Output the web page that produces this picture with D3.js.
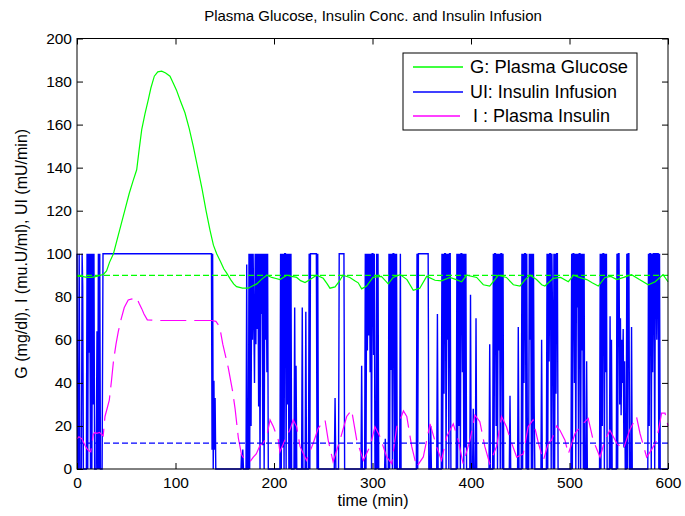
<!DOCTYPE html>
<html>
<head>
<meta charset="utf-8">
<script src="https://cdn.jsdelivr.net/npm/d3@7/dist/d3.min.js"></script>
<style>
html,body{margin:0;padding:0;background:#fff;}
svg{display:block;}
text{font-family:"Liberation Sans",Arial,sans-serif;fill:#000;}
</style>
</head>
<body>
<svg id="chart" width="685" height="516"></svg>
<script>
// ---------- data ----------
const titleText = "Plasma Glucose, Insulin Conc. and Insulin Infusion";
const xLabelText = "time (min)";
const yLabelText = "G (mg/dl), I (mu.U/ml), UI (mU/min)";
const xTicks = [0, 100, 200, 300, 400, 500, 600];
const yTicks = [0, 20, 40, 60, 80, 100, 120, 140, 160, 180, 200];
const legendLabels = ["G: Plasma Glucose", "UI: Insulin Infusion", "I : Plasma Insulin"];
const glucoseSetpoint = 90;
const insulinBasal = 12;

// G: plasma glucose [time, value]
const glucose = [[0,89.5],[5,89.5],[10,89],[15,89],[20,89.5],[24,90],[27,90.5],[30,92],[33,96],[37,100],[41,107],[45,114],[49,121],[53,128],[57,134],[60.6,139],[63,148],[65.7,157.7],[69,165],[72.4,171.6],[75,177],[78.5,182.5],[82,184.5],[86,184.8],[90,184],[94.4,182.5],[98,179],[101,176],[105,171],[109.6,165.5],[114,158],[118,150],[123,139],[127,130],[131,120],[135,111],[138.5,104],[141.8,100],[146,96],[149,93],[152,91],[156,88],[159,86],[162,84.7],[168,84],[174,84],[178,85],[182.5,86],[187,88],[192.6,90],[197.7,89],[202,88.5],[206,88],[213,90],[218,89.5],[223,89],[227,87.5],[231.5,86.6],[236.6,88],[243.3,90],[250,88.6],[254,86],[256.8,84],[262,84.6],[266,87],[270,90],[277,89],[282,87.5],[285.5,86.5],[289,83.7],[294,85],[300.5,89],[309,89.5],[313,87.5],[316,86],[321,89],[328,90.3],[335,88],[341.4,83],[348,84],[355,89.5],[363.5,87.7],[370,87.4],[378.6,89],[385,88],[390.5,87],[395.6,90],[405.8,89],[412.5,85.6],[419,85],[427.6,90],[436,89],[443,85.6],[449.7,85],[455,88],[460,90],[466.5,88],[471.8,85.6],[475,85],[483.5,88.6],[491,89],[498.8,87],[504,90],[510,89],[517.5,88],[523,86.5],[529.2,85],[536,89],[542,89.5],[548,88],[555,89],[563,90.3],[571,88],[580,85.6],[587,87],[595,90.3],[600,87]];

// UI: insulin infusion [time, value]
const infusion = [[0,100],[0.7,0],[1.5,0],[2.2,100],[3,0],[4.5,0],[5.2,100],[5.8,85],[6.5,0],[9.5,0],[10.2,100],[10.9,0],[11.6,100],[12.3,54],[13,100],[13.7,0],[14.4,100],[15.1,0],[15.8,100],[16.5,30],[17.2,100],[17.9,0],[19.5,0],[20.3,64],[21,0],[21.7,100],[22.4,0],[23.1,100],[23.8,0],[25.5,0],[26.4,100],
[136.5,100],[137.1,9],[137.7,100],[138.3,0],[139,41],[139.6,9],[140.2,33],[140.9,0],
[166.5,0],[167,7],[167.6,0],[168.3,9],[169,0],[171.6,0],[172.3,95],[173,0],
[174,0],[174.6,100],[175.3,0],[176,100],[176.7,20],[177.4,100],[178.1,60],[178.8,100],[179.5,70],[180.2,40],[180.9,100],[181.6,58],[182.3,100],[183,65],[183.7,100],[184.4,29],[185.1,100],[185.8,0],[186.5,100],[187.2,72],[187.9,100],[188.6,11],[189.3,100],[190,0],[190.7,100],[191.4,60],[192.1,100],[192.8,45],[193.5,100],[194.2,0],
[206,0],[206.7,100],[207.4,0],[208.1,100],[208.8,10],[209.5,100],[210.2,0],[210.9,100],[211.6,100],[212.3,0],[213,100],[213.7,30],[214.4,100],[215.1,0],[215.8,100],[216.5,0],[217.2,100],[217.9,0],[220.3,0],[221,75],[221.7,0],[222.4,48],[223.1,0],[228,0],[228.7,75],[229.4,0],[231.6,0],[232.3,73],[233,0],[235,0],[235.7,100],[236.4,0],[237,100],[243,100],[243.7,0],[244.4,100],[245.1,0],
[261.2,0],[262,33],[262.8,0],[265.5,0],[266.2,100],[271,100],[271.7,0],
[288.3,0],[289,48],[289.7,0],[292,0],[292.7,100],[293.4,0],[294.1,100],[294.8,55],[295.5,100],[296.2,62],[296.9,100],[297.6,45],[298.3,100],[299,0],[299.7,100],[300.4,100],[301.1,53],[301.8,100],[302.5,0],[303.5,0],[304.2,100],[304.9,0],[305.6,100],[306.3,0],
[312.3,0],[313,14],[313.7,0],[316,0],[316.7,100],[317.4,0],[318.1,100],[318.8,46],[319.5,100],[320.2,0],[320.9,100],[321.6,100],[322.3,0],[323,100],[323.7,0],[324.4,100],[325.1,0],[327.6,0],[328.3,100],[329,0],
[344.5,0],[345.2,100],[345.9,0],[346.6,100],[356.5,100],[357.2,0],[358.4,0],[359.1,20],[359.8,0],[365.2,0],[365.9,72],[366.6,0],
[369.8,0],[370.5,100],[371.2,0],[371.9,100],[372.6,35],[373.3,100],[374,100],[374.7,0],[375.4,100],[376.1,60],[376.8,100],[377.5,0],[378.2,100],[378.9,100],[379.6,0],
[385,0],[385.7,100],[386.4,0],[387.1,100],[387.8,20],[388.5,100],[389.2,0],[389.9,100],[390.6,100],[391.3,45],[392,100],[392.7,0],[393.4,100],[394.1,10],[394.8,100],[395.5,0],
[398.8,0],[399.5,81],[400.2,0],[401.6,0],[402.3,28],[403,0],[404.4,0],[405.1,70],[405.8,0],
[418.3,0],[419,58],[419.7,0],
[422,0],[422.7,100],[423.4,0],[424.1,100],[424.8,100],[425.5,20],[426.2,100],[426.9,0],[427.6,100],[428.3,55],[429,100],[429.7,0],[430.4,100],[431.1,100],[431.8,0],[432.5,100],[433.2,0],
[438.9,0],[439.6,34],[440.3,0],[447.3,0],[448,66],[448.7,0],
[451,0],[451.7,100],[452.4,0],[453.1,100],[453.8,40],[454.5,100],[455.2,100],[455.9,0],[456.6,100],[457.3,0],[458.5,0],[459.2,100],[459.9,60],[460.6,100],[461.3,0],[462,100],[462.7,0],[463.4,100],[464.1,30],[464.8,0],
[471,0],[471.7,60],[472.4,0],
[476.5,0],[477.2,100],[477.9,0],[478.6,100],[479.3,50],[480,100],[480.7,100],[481.4,0],[482.1,100],[482.8,70],[483.5,0],[484.2,100],[484.9,0],[485.6,100],[486.3,35],[487,100],[487.7,100],[488.4,0],
[501.5,0],[502.2,100],[502.9,0],[503.6,100],[504.3,100],[505,40],[505.7,100],[506.4,0],[507.1,100],[507.8,75],[508.5,100],[509.2,0],[509.9,100],[510.6,100],[511.3,0],[512,100],[512.7,55],[513.4,100],[514.1,0],[514.8,100],[515.5,0],
[516.7,0],[517.4,50],[518.1,0],
[530.5,0],[531.2,100],[531.9,0],[532.6,100],[533.3,20],[534,100],[534.7,100],[535.4,0],[536.1,100],[536.8,45],[537.5,100],[538.2,0],
[540.5,0],[541.2,71],[541.9,0],[542.6,60],[543.3,0],
[547.5,0],[548.2,100],[548.9,0],[549.6,100],[550.3,100],[551,30],[551.7,70],[552.4,25],[553.1,60],[553.8,40],[554.5,65],[555.2,10],[555.9,50],[556.6,0],[557.5,0],[558.2,100],[558.9,0],[559.6,100],[560.3,100],[561,0],[562.3,0],[563,66],[563.7,0],
[579.5,0],[580.2,100],[580.9,20],[581.6,100],[582.3,100],[583,0],[583.7,100],[584.4,45],[585.1,100],[585.8,100],[586.5,0],[587.2,100],[587.9,100],[588.6,60],[589.3,100],[590,100],[590.7,0],[591.4,100],[592.1,0],[600,0]];

// I: plasma insulin [time, value]
const insulin = [[0,14],[2,15],[5,14],[8,11],[10,9.5],[12,8.5],[14,8],[16.5,16],[18,17],[20,16.6],[23,17],[25,16],[26.6,15.4],[28.4,24.4],[30.5,28],[32.8,32],[35,41],[37,50],[39.6,58],[42,64],[45,70],[48,75],[52,78.5],[56,79],[60.6,79.6],[63,77],[65.7,74.5],[68,72],[71.4,69.3],[80,69],[100,69],[120,69],[136.7,69],[141,68.6],[143.5,67],[145,65.6],[148,58],[153.6,47],[158,36],[160.5,28],[163.8,14.4],[167,6.7],[170,4.5],[175.6,3.4],[179,5.5],[182,7],[185.8,11],[189,12],[192.6,15],[196,22.8],[199.4,19.6],[204.4,13.4],[206,8],[211,13.4],[216,18],[219.6,22.8],[223,19.6],[226.4,10.5],[233,4],[239.8,12],[245,19],[251.8,22.8],[255,13.4],[260,3.4],[267,13.4],[273.8,24.4],[278.8,27.4],[284,13.4],[290.7,4],[297.5,10.5],[302.5,19.6],[307.6,15],[314.4,5.6],[319.5,2.5],[324.6,19.6],[328,22.8],[331.4,27],[334.8,24.4],[339.8,10.5],[344.8,1],[351.6,5.6],[358.4,21],[365,10.5],[370,4],[375.3,15],[382,21],[387,13.4],[392,2.5],[399,13.4],[404,25],[409,22],[414,10.5],[419,2.5],[426,10.5],[431,24.4],[436,19.6],[441.3,12],[446.4,5.5],[453,7],[458,19.6],[463,22.8],[468.4,12],[473.5,4],[478.5,12],[481.8,13.4],[487,20],[490.3,18],[495.4,13.4],[498.8,7],[505.6,16.5],[510.7,19.6],[519,23.5],[524,13.4],[531,5.5],[536,13.4],[541,18],[548,12],[554.6,9],[561,18],[568,24.4],[571.6,16.5],[578.3,5.5],[583.4,9],[588.5,13.4],[593.5,26],[597,26],[600,20]];

// ---------- layout ----------
const svg = d3.select("#chart");
const plot = {left: 77, right: 668, top: 38.5, bottom: 469};
const x = d3.scaleLinear().domain([0, 600]).range([plot.left, plot.right]);
const y = d3.scaleLinear().domain([0, 200]).range([plot.bottom, plot.top]);
const fontSize = 15.5;

svg.append("rect").attr("x",0).attr("y",0).attr("width",685).attr("height",516).attr("fill","#fff");

const line = d3.line().x(d => x(d[0])).y(d => y(d[1]));

// series
svg.append("path").datum(infusion).attr("d", line)
  .attr("fill","none").attr("stroke","#0000ff").attr("stroke-width",1.4).attr("stroke-linejoin","miter");
svg.append("path").datum(glucose).attr("d", line)
  .attr("fill","none").attr("stroke","#00ff00").attr("stroke-width",1.2);
svg.append("path").datum(insulin).attr("d", line)
  .attr("fill","none").attr("stroke","#ff00ff").attr("stroke-width",1.2)
  .attr("stroke-dasharray","26,8");

// reference lines
svg.append("path").datum([[0,glucoseSetpoint],[600,glucoseSetpoint]]).attr("d", line)
  .attr("fill","none").attr("stroke","#00ff00").attr("stroke-width",1.2).attr("stroke-dasharray","6,3");
svg.append("path").datum([[0,insulinBasal],[600,insulinBasal]]).attr("d", line)
  .attr("fill","none").attr("stroke","#0000ff").attr("stroke-width",1.2).attr("stroke-dasharray","6,3");

// axes
const tickLen = 6;
const gx = svg.append("g").attr("transform",`translate(0,${plot.bottom})`)
  .call(d3.axisBottom(x).tickValues(xTicks).tickFormat(d3.format("d")).tickSizeInner(-tickLen).tickSizeOuter(0).tickPadding(8));
const gxt = svg.append("g").attr("transform",`translate(0,${plot.top})`)
  .call(d3.axisTop(x).tickValues(xTicks).tickFormat("").tickSizeInner(-tickLen).tickSizeOuter(0));
const gy = svg.append("g").attr("transform",`translate(${plot.left},0)`)
  .call(d3.axisLeft(y).tickValues(yTicks).tickFormat(d3.format("d")).tickSizeInner(-tickLen).tickSizeOuter(0).tickPadding(5));
const gyr = svg.append("g").attr("transform",`translate(${plot.right},0)`)
  .call(d3.axisRight(y).tickValues(yTicks).tickFormat("").tickSizeInner(-tickLen).tickSizeOuter(0));
[gx,gxt,gy,gyr].forEach(g => {
  g.select(".domain").remove();
  g.selectAll("line").attr("stroke","#000").attr("stroke-width",1);
  g.selectAll("text").attr("font-size",fontSize).attr("font-family","Liberation Sans, Arial, sans-serif").attr("fill","#000");
});

svg.append("rect").attr("x",plot.left).attr("y",plot.top)
  .attr("width",plot.right-plot.left).attr("height",plot.bottom-plot.top)
  .attr("fill","none").attr("stroke","#000").attr("stroke-width",1);

// title and labels
svg.append("text").attr("x",373).attr("y",21).attr("text-anchor","middle")
  .attr("font-size",15).text(titleText);
svg.append("text").attr("x",373).attr("y",506).attr("text-anchor","middle")
  .attr("font-size",16).text(xLabelText);
svg.append("text").attr("transform",`translate(27,${(plot.top+plot.bottom)/2}) rotate(-90)`)
  .attr("text-anchor","middle").attr("font-size",16).text(yLabelText);

// legend
const lg = svg.append("g");
lg.append("rect").attr("x",403).attr("y",53).attr("width",234).attr("height",77)
  .attr("fill","#fff").attr("stroke","#000").attr("stroke-width",1);
const legendColors = ["#00ff00","#0000ff","#ff00ff"];
const legendY = [67, 92, 116];
const legendLineEnd = [463, 463, 460];
const legendTextX = [470, 470, 473];
const legendWidths = [158, 147, 137];
legendLabels.forEach((lab, i) => {
  lg.append("line").attr("x1",413).attr("x2",legendLineEnd[i]).attr("y1",legendY[i]).attr("y2",legendY[i])
    .attr("stroke",legendColors[i]).attr("stroke-width",1.4);
  lg.append("text").attr("x",legendTextX[i]).attr("y",legendY[i]+6).attr("font-size",17.5)
    .attr("textLength",legendWidths[i]).attr("lengthAdjust","spacingAndGlyphs").text(lab);
});
</script>
</body>
</html>
